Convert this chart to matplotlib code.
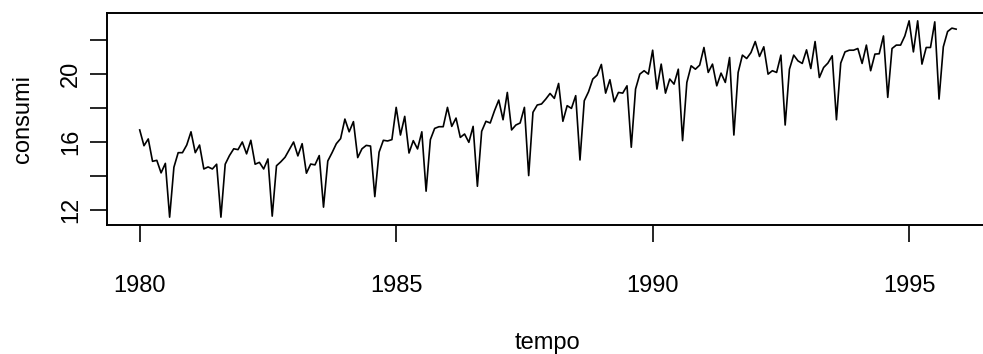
import numpy as np
import matplotlib
matplotlib.use("Agg")
import matplotlib.pyplot as plt

# serie mensile, gennaio 1980 - dicembre 1995
inizio = 1980
consumi = [
    16.71, 15.78, 16.18, 14.86, 14.92, 14.18, 14.74, 11.57, 14.51, 15.37, 15.37, 15.82,  # 1980
    16.60, 15.37, 15.82, 14.41, 14.53, 14.41, 14.69, 11.57, 14.69, 15.20, 15.60, 15.55,  # 1981
    16.00, 15.30, 16.10, 14.69, 14.80, 14.41, 15.00, 11.63, 14.60, 14.83, 15.10, 15.55,  # 1982
    16.00, 15.18, 15.90, 14.16, 14.70, 14.65, 15.20, 12.16, 14.88, 15.37, 15.90, 16.20,  # 1983
    17.35, 16.60, 17.20, 15.08, 15.60, 15.80, 15.76, 12.78, 15.40, 16.10, 16.06, 16.14,  # 1984
    18.04, 16.41, 17.51, 15.35, 16.08, 15.59, 16.60, 13.10, 16.14, 16.80, 16.90, 16.90,  # 1985
    18.04, 16.92, 17.41, 16.27, 16.47, 15.98, 16.92, 13.39, 16.63, 17.22, 17.12, 17.84,  # 1986
    18.47, 17.31, 18.92, 16.71, 17.00, 17.12, 18.04, 14.02, 17.75, 18.18, 18.24, 18.53,  # 1987
    18.86, 18.57, 19.45, 17.22, 18.14, 17.98, 18.73, 14.94, 18.43, 18.96, 19.71, 19.94,  # 1988
    20.57, 18.88, 19.67, 18.37, 18.92, 18.88, 19.31, 15.69, 19.12, 20.00, 20.20, 20.00,  # 1989
    21.41, 19.12, 20.59, 18.88, 19.71, 19.41, 20.29, 16.08, 19.51, 20.49, 20.29, 20.53,  # 1990
    21.57, 20.10, 20.59, 19.31, 20.06, 19.51, 20.98, 16.41, 20.10, 21.12, 20.92, 21.27,  # 1991
    21.92, 21.04, 21.61, 20.00, 20.20, 20.10, 21.12, 17.00, 20.29, 21.12, 20.78, 20.63,  # 1992
    21.43, 20.33, 21.92, 19.80, 20.39, 20.65, 21.08, 17.31, 20.65, 21.31, 21.41, 21.41,  # 1993
    21.51, 20.63, 21.71, 20.20, 21.18, 21.20, 22.25, 18.63, 21.51, 21.71, 21.71, 22.25,  # 1994
    23.14, 21.31, 23.14, 20.59, 21.57, 21.57, 23.08, 18.53, 21.61, 22.51, 22.71, 22.65,  # 1995
]
anni_tick = [1980, 1985, 1990, 1995]
y_tick = [12, 14, 16, 18, 20, 22]
y_etichette = ["12", "", "16", "", "20", ""]

tempo = inizio + np.arange(len(consumi)) / 12

plt.rcParams['font.family'] = ['Liberation Sans', 'DejaVu Sans']
fig = plt.figure(figsize=(9.83, 3.54), dpi=100)
ax = fig.add_axes([0.1089, 0.3644, 0.897, 0.5989])

ax.plot(tempo, consumi, color='black', linewidth=1.2)
ax.margins(x=0.04, y=0.04)

ax.set_xticks(anni_tick)
ax.set_yticks(y_tick)
ax.set_yticklabels(y_etichette, rotation=90, va='center')
ax.tick_params(axis='both', direction='out', length=12, width=1.2, labelsize=17, colors='black')
ax.tick_params(axis='x', pad=24)
ax.tick_params(axis='y', pad=6)
for s in ax.spines.values():
    s.set_linewidth(1.4)

ax.set_xlabel("tempo", fontsize=17, labelpad=25)
ax.set_ylabel("consumi", fontsize=17, labelpad=19)

fig.savefig("out.png", dpi=100)
